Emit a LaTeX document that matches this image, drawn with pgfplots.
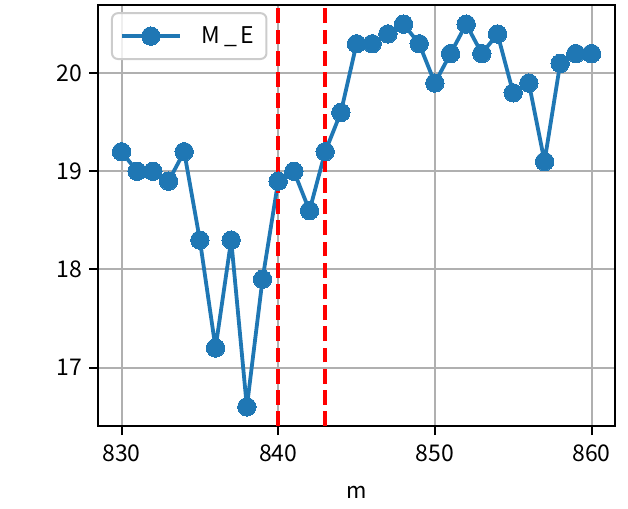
\documentclass[border=0pt]{standalone}
\usepackage{pgfplots}
\pgfplotsset{compat=1.18}
\usepackage{fontspec}
\setmainfont{Noto Sans CJK JP}
\definecolor{mplblue}{HTML}{1F77B4}
\begin{document}
\begin{tikzpicture}
\begin{axis}[
  scale only axis,
  width=258.5pt, height=210.5pt,
  xmin=828.5, xmax=861.5, ymin=16.405, ymax=20.695,
  xtick={830,840,850,860}, ytick={17,18,19,20},
  grid=major,
  major grid style={color=black!31, line width=1pt},
  tick align=outside, tick pos=left,
  major tick length=4.5pt,
  every tick/.style={black, line width=1pt},
  axis line style={line width=1pt},
  xlabel={m},
  xlabel style={yshift=-5pt},
  xticklabel style={yshift=-1.5pt},
  /pgf/number format/assume math mode=true,
  /pgf/number format/1000 sep={},
  tick label style={font=\fontsize{11.5}{13}\selectfont},
  label style={font=\fontsize{11}{13}\selectfont},
  legend style={at={(0.025,0.983)}, anchor=north west, draw=black!20, rounded corners=3pt, fill=white, fill opacity=0.8, text opacity=1, line width=1pt, font=\fontsize{11.5}{13}\selectfont, inner xsep=4pt, inner ysep=4.5pt},
  legend cell align=left,
  legend image code/.code={
    \draw[#1, fill opacity=1, draw opacity=1, mark repeat=2, mark phase=2] plot coordinates {(0pt,0pt) (14.5pt,0pt) (29pt,0pt)};
  },
]
\addplot[mplblue, line width=1.9pt, line join=round, mark=*, mark size=4.6pt, mark options={solid, fill=mplblue, draw=mplblue, line width=0pt}] coordinates {
(830,19.2) (831,19.0) (832,19.0) (833,18.9) (834,19.2) (835,18.3) (836,17.2) (837,18.3) (838,16.6) (839,17.9)
(840,18.9) (841,19.0) (842,18.6) (843,19.2) (844,19.6) (845,20.3) (846,20.3) (847,20.4) (848,20.5) (849,20.3)
(850,19.9) (851,20.2) (852,20.5) (853,20.2) (854,20.4) (855,19.8) (856,19.9) (857,19.1) (858,20.1) (859,20.2)
(860,20.2)
};
\addlegendentry{\hspace{8pt}M\,\_\,E}
\addplot[red, line width=2pt, dash pattern=on 7.4pt off 3.2pt, forget plot] coordinates {(840,16.405) (840,20.695)};
\addplot[red, line width=2pt, dash pattern=on 7.4pt off 3.2pt, forget plot] coordinates {(843,16.405) (843,20.695)};
\coordinate (BL) at (rel axis cs:-0.1896,-0.1948);
\coordinate (TR) at (rel axis cs:1.0251,1.0119);
\end{axis}
\path (BL) rectangle (TR);
\end{tikzpicture}
\end{document}
